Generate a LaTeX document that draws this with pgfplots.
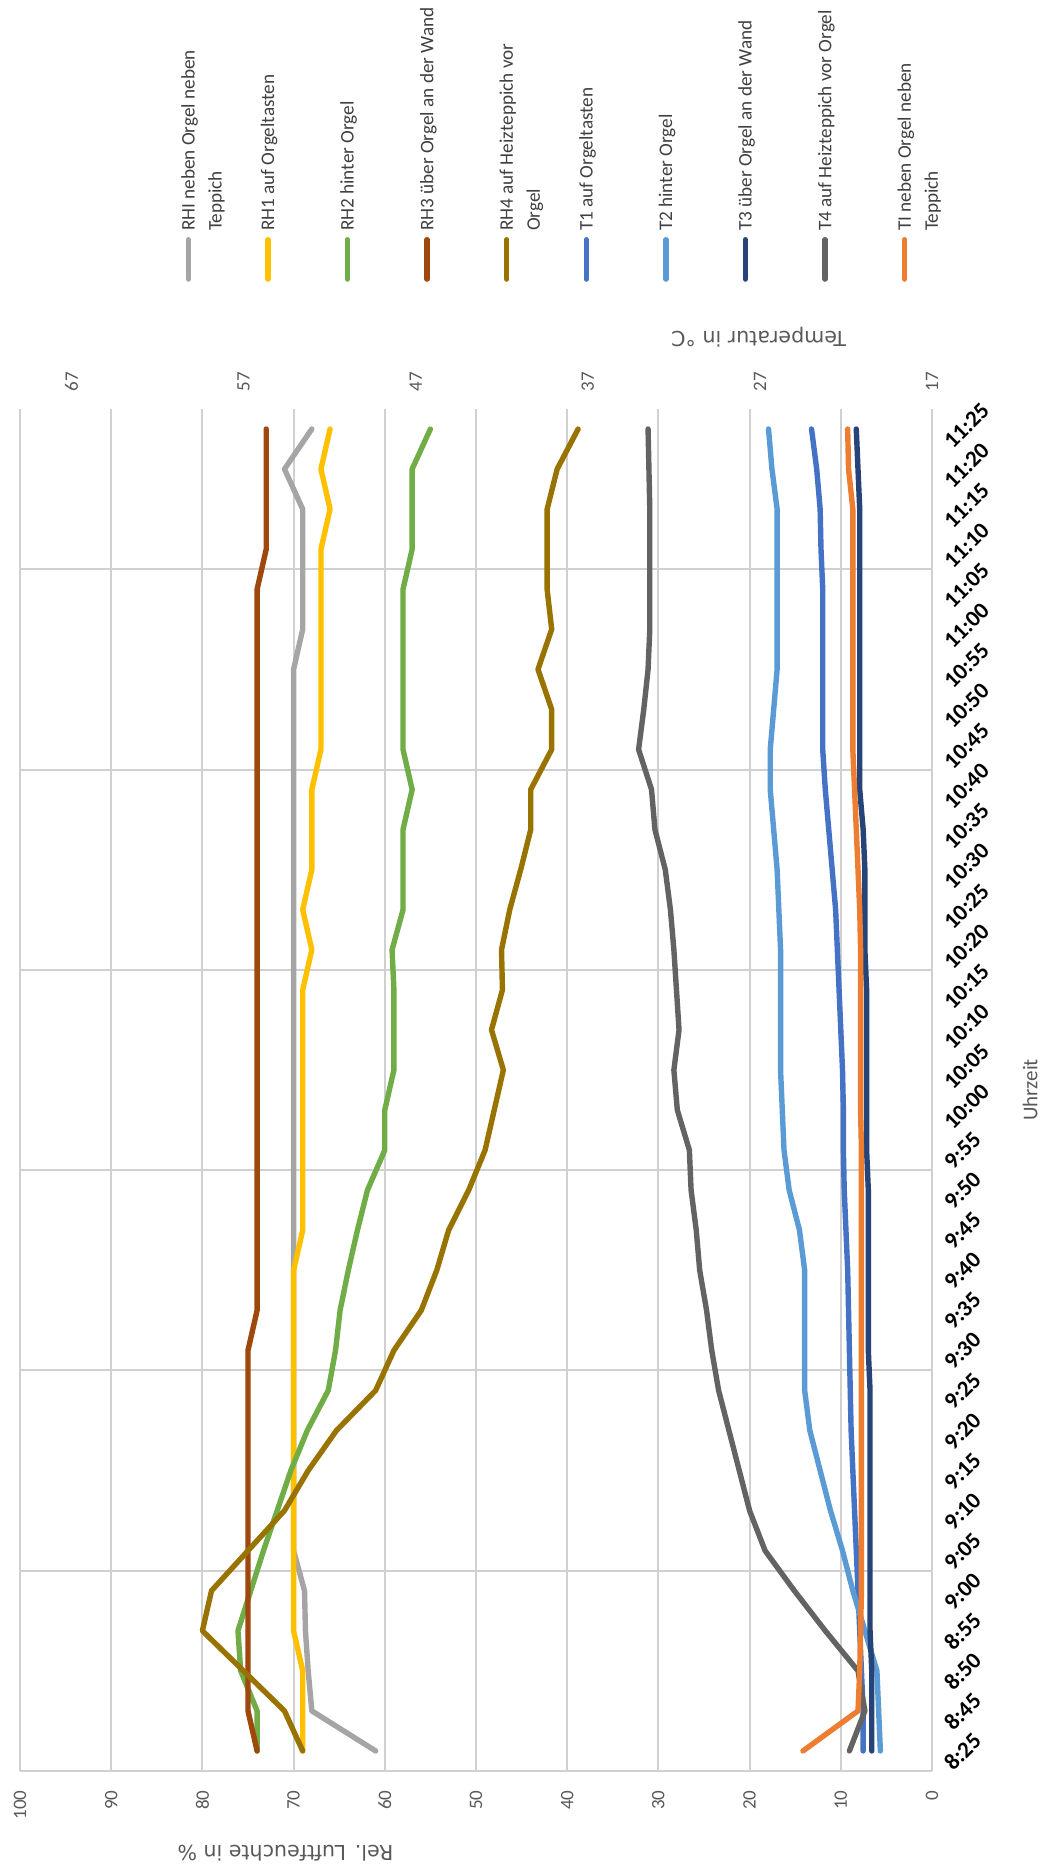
\documentclass[border=0pt]{standalone}
\usepackage{fontspec}
\setmainfont{Carlito}
\newfontfamily\dejavu{DejaVu Sans}
\usepackage{graphicx}
\usepackage{pgfplots}
\usepackage{pgfplotstable}
\pgfplotsset{compat=1.18}

\definecolor{cRHI}{HTML}{A5A5A5}
\definecolor{cRH1}{HTML}{FFC000}
\definecolor{cRH2}{HTML}{70AD47}
\definecolor{cRH3}{HTML}{9E480E}
\definecolor{cRH4}{HTML}{997300}
\definecolor{cT1}{HTML}{4472C4}
\definecolor{cT2}{HTML}{5B9BD5}
\definecolor{cT3}{HTML}{264478}
\definecolor{cT4}{HTML}{636363}
\definecolor{cTI}{HTML}{ED7D31}
\definecolor{gridc}{HTML}{D0D0D0}
\definecolor{tickc}{HTML}{595959}
\definecolor{legc}{HTML}{404040}

\pgfplotstableread{
i rhi rh1 rh2 rh3 rh4
0 61 69 74 74 69
1 68 69 74 75 71
2 68.4 69 75.8 75 75.5
3 68.7 70 76.1 75 80
4 68.8 70 74.7 75 79
5 70 70 73.3 75 75
6 70 70 71.8 75 71
7 70 70 70.3 75 68.4
8 70 70 68.5 75 65.3
9 70 70 66.2 75 61
10 70 70 65.4 75 59
11 70 70 64.9 74 56
12 70 70 64 74 54.3
13 70 69 63 74 53
14 70 69 61.9 74 50.8
15 70 69 60 74 49
16 70 69 60 74 48
17 70 69 59 74 47
18 70 69 59 74 48.3
19 70 69 59 74 47.1
20 70 68 59.2 74 47.2
21 70 69 58 74 46.3
22 70 68 58 74 45.1
23 70 68 58 74 44
24 70 68 57 74 44
25 70 67 58 74 41.7
26 70 67 58 74 41.7
27 70 67 58 74 43.2
28 69 67 58 74 41.7
29 69 67 58 74 42.2
30 69 67 57 73 42.2
31 69 66 57 73 42.2
32 71 67 57 73 41.1
33 68 66 55 73 38.8
}\rhdata

\pgfplotstableread{
i t1 t2 t3 t4 ti
0 21.0 20.0 20.5 21.8 24.5
1 21.0 20.1 20.5 20.9 21.3
2 21.1 20.2 20.5 21.3 21.2
3 21.2 20.9 20.6 23.2 21.15
4 21.3 21.6 20.6 25.0 21.1
5 21.4 22.2 20.6 26.7 21.1
6 21.5 22.9 20.6 27.6 21.1
7 21.6 23.5 20.6 28.2 21.1
8 21.7 24.1 20.6 28.8 21.1
9 21.75 24.4 20.6 29.4 21.1
10 21.8 24.4 20.7 29.8 21.1
11 21.85 24.4 20.7 30.1 21.1
12 21.9 24.4 20.7 30.5 21.1
13 22.0 24.7 20.7 30.7 21.1
14 22.1 25.3 20.7 31.0 21.1
15 22.15 25.6 20.8 31.1 21.1
16 22.15 25.7 20.8 31.8 21.15
17 22.2 25.8 20.8 32.0 21.15
18 22.3 25.8 20.8 31.7 21.15
19 22.4 25.8 20.8 31.85 21.15
20 22.5 25.8 20.9 32.0 21.15
21 22.6 25.9 20.9 32.2 21.2
22 22.8 26.0 20.9 32.5 21.3
23 23.0 26.2 21.0 33.1 21.4
24 23.2 26.4 21.2 33.3 21.5
25 23.35 26.4 21.2 34.05 21.6
26 23.35 26.2 21.2 33.75 21.6
27 23.35 26.0 21.2 33.5 21.6
28 23.35 26.0 21.2 33.4 21.6
29 23.35 26.0 21.2 33.4 21.6
30 23.45 26.0 21.2 33.4 21.6
31 23.5 26.0 21.2 33.4 21.6
32 23.7 26.3 21.3 33.45 21.85
33 24.0 26.5 21.4 33.5 21.9
}\tdata

\begin{document}
\rotatebox{90}{%
\begin{tikzpicture}
\useasboundingbox (0,0) rectangle (934.5pt,522pt);
\begin{axis}[
  at={(49pt,56pt)}, anchor=south west,
  width=681pt, height=456pt, scale only axis,
  xmin=-0.5, xmax=33.5, ymin=0, ymax=100,
  xtick={0,...,33},
  xticklabels={8:25,8:45,8:50,8:55,9:00,9:05,9:10,9:15,9:20,9:25,9:30,9:35,9:40,9:45,9:50,9:55,10:00,10:05,10:10,10:15,10:20,10:25,10:30,10:35,10:40,10:45,10:50,10:55,11:00,11:05,11:10,11:15,11:20,11:25},
  ytick={0,10,...,100},
  ymajorgrids,
  extra x ticks={-0.5,4.5,9.5,14.5,19.5,24.5,29.5},
  extra x tick labels={},
  extra x tick style={grid=major},
  major grid style={draw=gridc, line width=1pt},
  axis line style={draw=none},
  major tick length=0pt,
  tick style={draw=none},
  /pgf/number format/assume math mode=true,
  yticklabel style={font=\fontsize{9.5}{11}\selectfont, text=tickc, anchor=east, inner sep=0pt, xshift=-9.5pt},
  xticklabel style={font=\bfseries\fontsize{11.5}{13}\selectfont, text=black, rotate=-45, anchor=west, inner sep=0pt, yshift=-11pt},
  xlabel={Uhrzeit},
  every axis x label/.style={at={(axis description cs:0.5,-0.1075)}, anchor=center, font=\fontsize{10.5}{12}\selectfont, text=tickc},
  ylabel={Rel. Luftfeuchte in \%},
  every axis y label/.style={at={(axis description cs:-0.0602,0.709)}, rotate=90, anchor=center, font=\dejavu\fontsize{10.3}{12}\selectfont, text=tickc},
]
\addplot[cRHI, line width=2.7pt, line join=round, line cap=round] table[x=i, y=rhi] {\rhdata};
\addplot[cRH1, line width=2.7pt, line join=round, line cap=round] table[x=i, y=rh1] {\rhdata};
\addplot[cRH2, line width=2.7pt, line join=round, line cap=round] table[x=i, y=rh2] {\rhdata};
\addplot[cRH3, line width=2.7pt, line join=round, line cap=round] table[x=i, y=rh3] {\rhdata};
\addplot[cRH4, line width=2.7pt, line join=round, line cap=round] table[x=i, y=rh4] {\rhdata};
\end{axis}
\begin{axis}[
  at={(49pt,56pt)}, anchor=south west,
  width=681pt, height=456pt, scale only axis,
  xmin=-0.5, xmax=33.5, ymin=17, ymax=70,
  hide x axis,
  axis y line*=right,
  axis line style={draw=none},
  ytick={17,27,37,47,57,67},
  major tick length=0pt, tick style={draw=none},
  /pgf/number format/assume math mode=true,
  yticklabel style={font=\fontsize{9.5}{11}\selectfont, text=tickc, anchor=west, inner sep=0pt, xshift=8.5pt},
  ylabel={Temperatur in °C},
  every axis y label/.style={at={(axis description cs:1.0529,0.19)}, rotate=90, anchor=center, font=\dejavu\fontsize{10.3}{12}\selectfont, text=tickc},
  legend image code/.code={\draw[#1, line cap=round] (0pt,0pt) -- (19.7pt,0pt);},
  legend cell align=left,
  legend style={at={(axis description cs:1.0931,0.8229)}, anchor=north west, draw=none, fill=none, inner sep=0pt, row sep=33.5pt, column sep=3pt, font=\fontsize{9.6}{13.5}\selectfont, text=legc, nodes={inner sep=0pt, text height=6.3pt, text depth=0pt}},
]
\addlegendimage{cRHI, line width=2.7pt}
\addlegendentry{\parbox[t]{114pt}{RHI neben Orgel neben\\Teppich}}
\addlegendimage{cRH1, line width=2.7pt}
\addlegendentry{RH1 auf Orgeltasten}
\addlegendimage{cRH2, line width=2.7pt}
\addlegendentry{RH2 hinter Orgel}
\addlegendimage{cRH3, line width=2.7pt}
\addlegendentry{RH3 über Orgel an der Wand}
\addlegendimage{cRH4, line width=2.7pt}
\addlegendentry{\parbox[t]{114pt}{RH4 auf Heizteppich vor\\Orgel}}
\addplot[cT1, line width=2.7pt, line join=round, line cap=round] table[x=i, y=t1] {\tdata};
\addlegendentry{T1 auf Orgeltasten}
\addplot[cT2, line width=2.7pt, line join=round, line cap=round] table[x=i, y=t2] {\tdata};
\addlegendentry{T2 hinter Orgel}
\addplot[cT3, line width=2.7pt, line join=round, line cap=round] table[x=i, y=t3] {\tdata};
\addlegendentry{T3 über Orgel an der Wand}
\addplot[cT4, line width=2.7pt, line join=round, line cap=round] table[x=i, y=t4] {\tdata};
\addlegendentry{T4 auf Heizteppich vor Orgel}
\addplot[cTI, line width=2.7pt, line join=round, line cap=round] table[x=i, y=ti] {\tdata};
\addlegendentry{\parbox[t]{114pt}{TI neben Orgel neben\\Teppich}}
\end{axis}
\end{tikzpicture}}
\end{document}
